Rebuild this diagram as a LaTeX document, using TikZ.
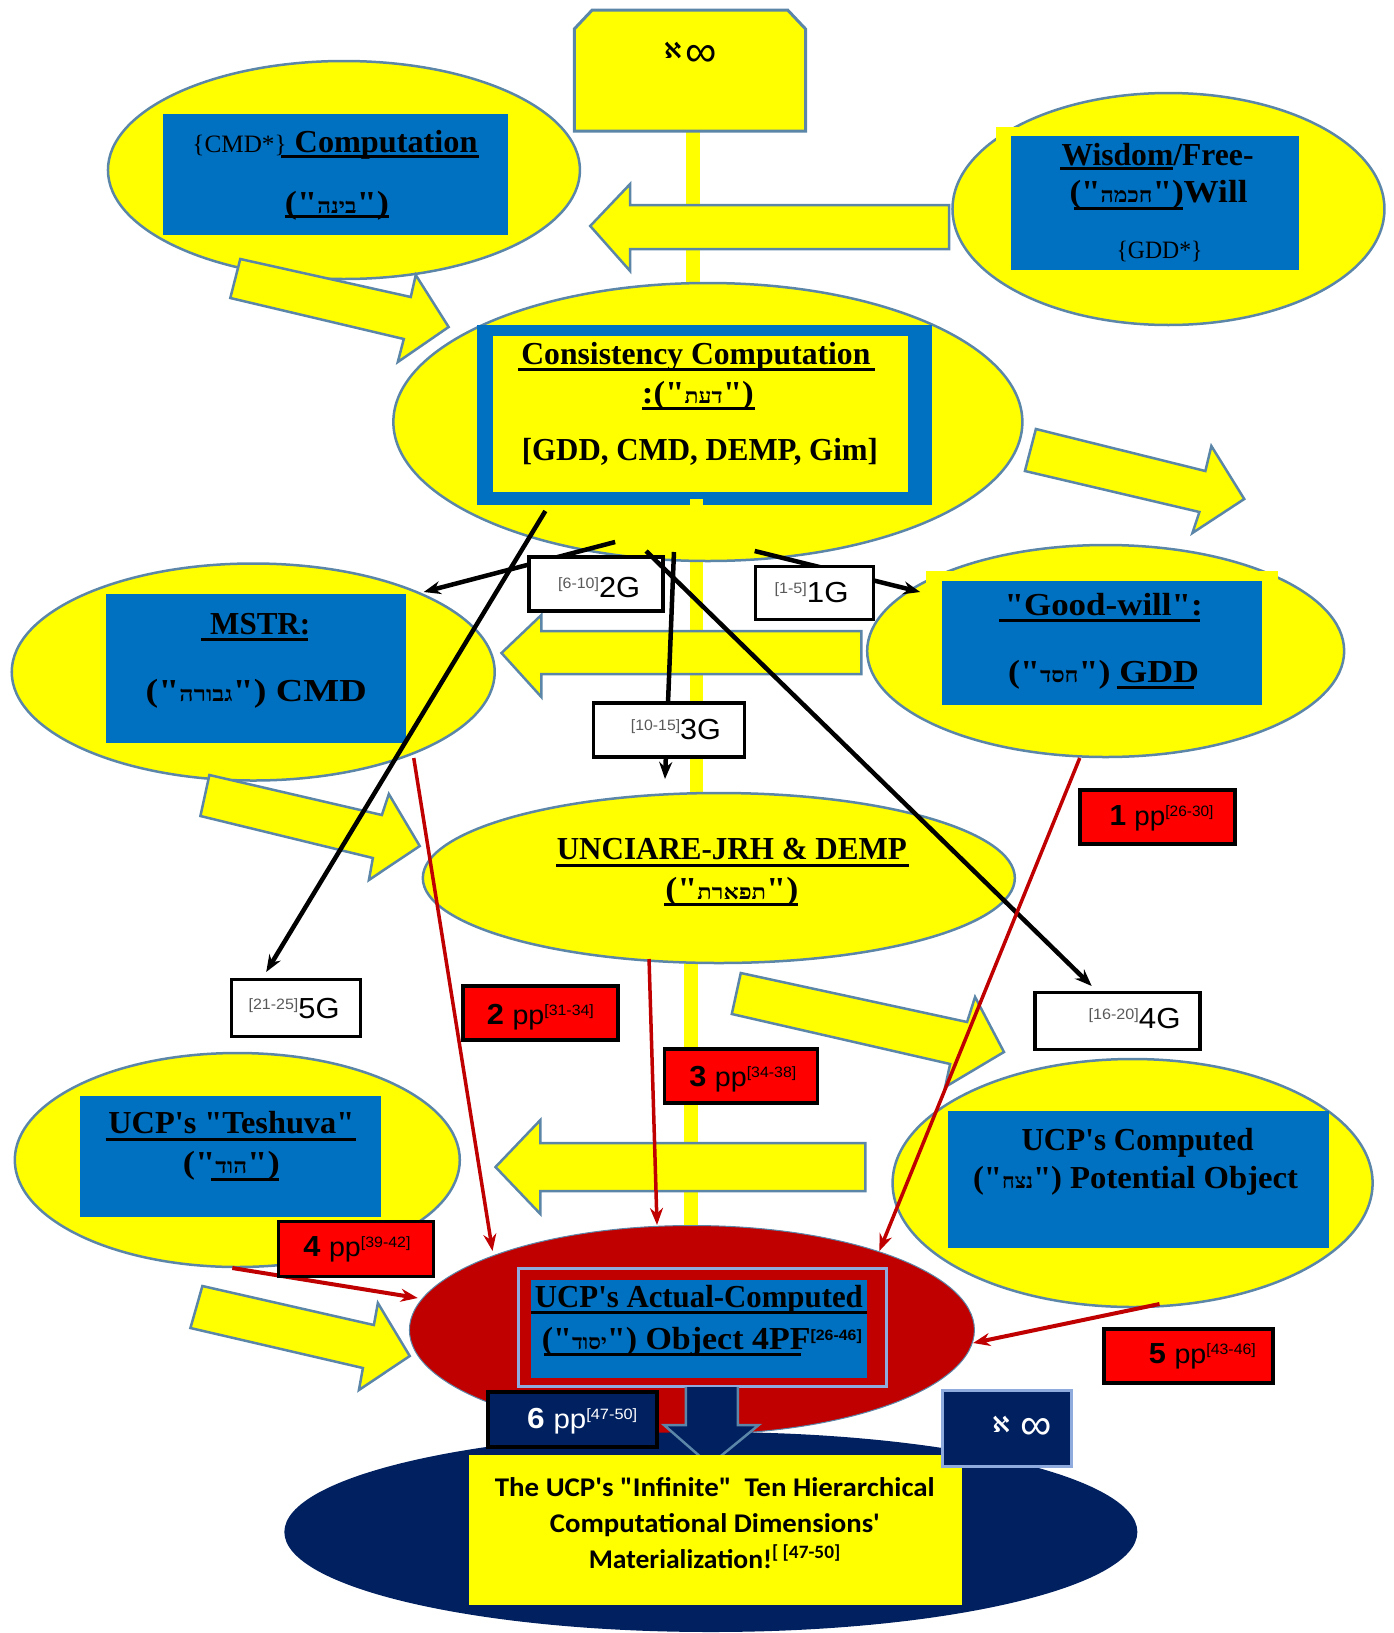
\documentclass[tikz,border=0pt]{standalone}
\usepackage{fontspec}
\usepackage{graphicx}
\usetikzlibrary{shapes.geometric,arrows.meta}
\TeXXeTstate=1
\setmainfont{Liberation Serif}
\setsansfont{Liberation Sans}
\newfontfamily\tmsfont{Liberation Serif}
\newfontfamily\hebfont[Script=Hebrew]{Liberation Serif}
\newfontfamily\djvfont{DejaVu Sans}
\newfontfamily\crlfont{Carlito}
\definecolor{yel}{HTML}{FFFF00}
\definecolor{blu}{HTML}{0070C0}
\definecolor{edg}{HTML}{5B86A8}
\definecolor{rd}{HTML}{FF0000}
\definecolor{drd}{HTML}{C00000}
\definecolor{nvy}{HTML}{002060}
\definecolor{lav}{HTML}{8FAADC}
\newcommand\fit[2]{\resizebox{#1pt}{\height}{#2}}
\newcommand\hb[1]{{\fontsize{21}{21}\selectfont\hebfont\bfseries\beginR #1\endR}}
\newcommand\mb{\tmsfont\fontsize{32}{36}\selectfont\bfseries}
\newcommand\mr{\tmsfont\fontsize{25}{28}\selectfont}
\newcommand\sps[1]{{\fontsize{15}{15}\selectfont\sffamily\raisebox{9pt}{#1}}}
\newcommand\gt[2]{{\sffamily\textcolor{black!65}{\sps{#1}}\fontsize{29}{30}\selectfont #2}}
\newcommand\ppt[2]{{\sffamily\fontsize{29}{30}\selectfont\bfseries #1\ \mdseries\fontsize{27}{28}\selectfont pp\sps{#2}}}
\newcommand\sheth{{\djvfont\fontsize{22}{22}\selectfont\bfseries ℵ}}
\newcommand\infi{{\sffamily\fontsize{44}{44}\selectfont ∞}}
\tikzset{
  x=0.997pt,y=-1pt,
  ell/.style={ellipse,draw=edg,line width=2.5pt,fill=yel,inner sep=0pt},
  bluebox/.style={fill=blu},
  yarrow/.style={draw=edg,line width=2.5pt,fill=yel,line join=miter},
  gbox/.style={rectangle,draw=black,line width=3.5pt,fill=white,inner sep=0pt},
  rbox/.style={rectangle,draw=black,line width=3.5pt,fill=rd,inner sep=0pt},
  blk/.style={draw=black,line width=4.5pt,-{Stealth[length=17pt,width=13pt]}},
  red1/.style={draw=drd,line width=3.5pt,-{Stealth[length=17pt,width=13pt]}},
  tx/.style={inner sep=0pt,outer sep=0pt,anchor=base},
  tc/.style={inner sep=0pt,outer sep=0pt,anchor=center},
  uline/.style={draw=black,line width=3pt}
}
\begin{document}
\begin{tikzpicture}
\useasboundingbox (0,0) rectangle (1397.2,1633);
% central yellow bar
\fill[yel] (688,132) rectangle (702,300);
\fill[yel] (692,500) rectangle (705,810);
\fill[yel] (686,950) rectangle (700,1240);
% top block
\draw[draw=edg,line width=3pt,fill=yel] (576,131)--(576,29)--(594,10)--(790,10)--(808,29)--(808,131)--cycle;
% ellipses
\node[ell,minimum width=472pt,minimum height=218pt] (eCMD) at (345,170) {};
\node[ell,minimum width=432pt,minimum height=232pt] (eGDD) at (1172,209) {};
\node[ell,minimum width=629pt,minimum height=278pt] (eCON) at (710,422) {};
\node[ell,minimum width=483pt,minimum height=217pt] (eMST) at (254,672) {};
\node[ell,minimum width=477pt,minimum height=212pt] (eGOO) at (1109,651) {};
\node[ell,minimum width=592pt,minimum height=170pt] (eUNC) at (721,878) {};
\node[ell,minimum width=445pt,minimum height=214pt] (eTES) at (238,1160) {};
\node[ell,minimum width=480pt,minimum height=248pt] (eCOM) at (1136,1183) {};
% blue / yellow panels
\fill[bluebox] (163,114) rectangle (510,235);
\fill[yel] (999,127) rectangle (1302,270);
\fill[bluebox] (1014,136) rectangle (1303,270);
\fill[bluebox] (478,325) rectangle (935,505);
\fill[yel] (494,336) rectangle (911,492);
\fill[yel] (692,499) rectangle (705,505);
\fill[bluebox] (106,594) rectangle (407,743);
\fill[yel] (929,571) rectangle (1282,610);
\fill[bluebox] (945,581) rectangle (1266,705);
\fill[bluebox] (80,1096) rectangle (382,1217);
\fill[bluebox] (951,1111) rectangle (1333,1248);
% yellow block arrows
\draw[yarrow] (952,205)--(632,205)--(632,184)--(592,226)--(632,271)--(632,249)--(952,249)--cycle;
\draw[yarrow] (864,631)--(543,631)--(543,615)--(503,653)--(543,697)--(543,674)--(864,674)--cycle;
\draw[yarrow] (868,1143)--(542,1143)--(542,1120)--(497,1167)--(542,1214)--(542,1191)--(868,1191)--cycle;
\draw[yarrow] (241,259)--(231,298)--(405,339)--(399,362)--(450,327)--(417,275)--(412,297)--cycle;
\draw[yarrow] (1039,429)--(1028,471)--(1203,512)--(1196,533)--(1248,499)--(1215,446)--(1209,471)--cycle;
\draw[yarrow] (210,775)--(201,816)--(374,858)--(370,880)--(421,846)--(390,794)--(383,815)--cycle;
\draw[yarrow] (743,973)--(734,1014)--(953,1064)--(948,1087)--(1007,1052)--(978,997)--(970,1022)--cycle;
\draw[yarrow] (203,1286)--(191,1328)--(364,1368)--(360,1390)--(411,1356)--(379,1303)--(375,1325)--cycle;
% bottom assembly
\node[ellipse,fill=drd,draw=edg,line width=1pt,inner sep=0pt,minimum width=565pt,minimum height=209pt] (eRED) at (694,1330) {};
\node[ellipse,fill=nvy,inner sep=0pt,minimum width=853pt,minimum height=200pt] (eNVY) at (713,1532) {};
\fill[blu] (533,1280) rectangle (870,1378);
\draw[lav,line width=3pt] (520,1268) rectangle (889,1386);
\draw[draw=edg,line width=2.5pt,fill=nvy] (688,1387)--(688,1425)--(666,1425)--(712,1465)--(761,1425)--(740,1425)--(740,1387);
\fill[yel] (470,1455) rectangle (965,1605);
\node[rectangle,draw=lav,line width=3pt,fill=nvy,inner sep=0pt,minimum width=129pt,minimum height=76pt] (bINF) at (1010,1428) {};
% black connectors
\coordinate (k1a) at (757,551); \coordinate (k1b) at (923,592);
\coordinate (k2a) at (617,542); \coordinate (k2b) at (425,592);
\coordinate (k3a) at (676,552); \coordinate (k3b) at (667,779);
\coordinate (k4a) at (648,551); \coordinate (k4b) at (1095,986);
\coordinate (k5a) at (547,511); \coordinate (k5b) at (267,972);
\draw[blk] (k1a) -- (k1b);
\draw[blk] (k2a) -- (k2b);
\draw[blk] (k3a) -- (k3b);
\draw[blk] (k5a) -- (k5b);
% white boxes
\node[gbox,minimum width=134pt,minimum height=54pt] (b2G) at (598,584) {};
\node[gbox,minimum width=118pt,minimum height=53pt] (b1G) at (817,593) {};
\node[gbox,minimum width=151pt,minimum height=54pt] (b3G) at (671,730) {};
\node[gbox,minimum width=129pt,minimum height=57pt] (b5G) at (297,1008) {};
\node[gbox,minimum width=165pt,minimum height=57pt] (b4G) at (1121,1021) {};
\draw[blk] (k4a) -- (k4b);
% red connectors
\coordinate (r1a) at (1083,758); \coordinate (r1b) at (882,1251);
\coordinate (r2a) at (415,758); \coordinate (r2b) at (494,1251);
\coordinate (r3a) at (651,959); \coordinate (r3b) at (659,1225);
\coordinate (r4a) at (233,1268); \coordinate (r4b) at (419,1298);
\coordinate (r5a) at (1163,1304); \coordinate (r5b) at (976,1343);
\draw[red1] (r1a) -- (r1b);
\draw[red1] (r2a) -- (r2b);
\draw[red1] (r3a) -- (r3b);
\draw[red1,line width=4pt] (r4a) -- (r4b);
\draw[red1,line width=4pt] (r5a) -- (r5b);
% red boxes
\node[rbox,minimum width=155pt,minimum height=54pt] (p1) at (1161,817) {};
\node[rbox,minimum width=155pt,minimum height=54pt] (p2) at (542,1013) {};
\node[rbox,minimum width=153pt,minimum height=54pt] (p3) at (743,1076) {};
\node[rbox,minimum width=155pt,minimum height=55pt] (p4) at (357,1249) {};
\node[rbox,minimum width=169pt,minimum height=54pt] (p5) at (1192,1356) {};
\node[rectangle,draw=black,line width=3.5pt,fill=nvy,inner sep=0pt,minimum width=169pt,minimum height=55pt] (p6) at (574,1419.5) {};
% underlines
\draw[uline] (282,156) -- (480,156);
\draw[uline] (286,216) -- (390,216);
\draw[uline] (1063,168) -- (1177,168);
\draw[uline] (1077,208) -- (1187,208);
\draw[uline] (520,369) -- (878,369);
\draw[uline] (644,408) -- (757,408);
\draw[uline] (202,639) -- (309,639);
\draw[uline] (1002,620) -- (1204,620);
\draw[uline] (1120,687) -- (1198,687);
\draw[uline] (558,865) -- (912,865);
\draw[uline] (666,904) -- (800,904);
\draw[uline] (106,1139) -- (357,1139);
\draw[uline] (212,1179) -- (280,1179);
\draw[uline] (533,1312) -- (870,1312);
\draw[uline] (546,1354) -- (803,1354);
% texts
\node[tx] (tTop) at (675,58) {\sheth};
\node[tc] (tTopI) at (703,56) {\infi};
\node[tx] (tA) at (336,152) {\fit{285}{\mr\{CMD*\}\mb\ Computation}};
\node[tx] (tA2) at (338,213) {\fit{104}{\mb("\hb{בינה}")}};
\node[tx] (tB) at (1161,165) {\fit{192}{\mb Wisdom/Free-}};
\node[tx] (tB2) at (1162,202) {\fit{178}{\mb("\hb{חכמה}")Will}};
\node[tx] (tB3) at (1163,258) {\fit{86}{\mr\{GDD*\}}};
\node[tx] (tC) at (698,364) {\fit{349}{\mb Consistency Computation}};
\node[tx] (tC2) at (700,403) {\fit{112}{\mb:("\hb{דעת}")}};
\node[tx] (tC3) at (702,460) {\fit{356}{\mb[GDD, CMD, DEMP, Gim]}};
\node[tx] (tD) at (261,634) {\fit{100}{\mb MSTR:}};
\node[tx] (tD2) at (257,701) {\fit{221}{\mb("\hb{גבורה}") CMD}};
\node[tx] (tE) at (1107,615) {\fit{198}{\mb"Good-will":}};
\node[tx] (tE2) at (1107,682) {\fit{191}{\mb("\hb{חסד}") GDD}};
\node[tx] (tF) at (734,859) {\fit{350}{\mb UNCIARE-JRH \& DEMP}};
\node[tx] (tF2) at (734,899) {\fit{133}{\mb("\hb{תפארת}")}};
\node[tx] (tG) at (232,1133) {\fit{246}{\mb UCP's "Teshuva"}};
\node[tx] (tG2) at (232,1173) {\fit{97}{\mb("\hb{הוד}")}};
\node[tx] (tH) at (1141,1150) {\fit{232}{\mb UCP's Computed}};
\node[tx] (tH2) at (1139,1188) {\fit{325}{\mb("\hb{נצח}") Potential Object}};
\node[tx] (tI) at (701,1307) {\fit{328}{\mb UCP's Actual-Computed}};
\node[tx] (tI2) at (704,1349) {\fit{320}{\mb("\hb{יסוד}") Object 4PF\sps{[26-46]}}};
% box texts
\node[tx] (g2) at (601,597) {\fit{82}{\gt{[6-10]}{2G}}};
\node[tx] (g1) at (814,602) {\fit{74}{\gt{[1-5]}{1G}}};
\node[tx] (g3) at (678,739) {\fit{90}{\gt{[10-15]}{3G}}};
\node[tx] (g5) at (295,1018) {\fit{91}{\gt{[21-25]}{5G}}};
\node[tx] (g4) at (1138,1028) {\fit{92}{\gt{[16-20]}{4G}}};
\node[tx] (q1) at (1165,825) {\fit{104}{\ppt{1}{[26-30]}}};
\node[tx] (q2) at (542,1024) {\fit{107}{\ppt{2}{[31-34]}}};
\node[tx] (q3) at (745,1086) {\fit{107}{\ppt{3}{[34-38]}}};
\node[tx] (q4) at (358,1256) {\fit{107}{\ppt{4}{[39-42]}}};
\node[tx] (q5) at (1206,1363) {\fit{107}{\ppt{5}{[43-46]}}};
\node[tx,text=white] (q6) at (584,1428) {\fit{110}{\ppt{6}{[47-50]}}};
\node[tx,text=white] (tInfA) at (1004,1432) {\sheth};
\node[tc,text=white] (tInfB) at (1039,1429) {\infi};
% bottom caption
\node[tx] (z1) at (717,1496) {\fit{440}{\crlfont\fontsize{27}{30}\selectfont\bfseries The UCP's "Infinite"\ \ Ten Hierarchical}};
\node[tx] (z2) at (717,1532) {\fit{330}{\crlfont\fontsize{27}{30}\selectfont\bfseries Computational Dimensions'}};
\node[tx] (z3) at (717,1568) {\fit{252}{\crlfont\fontsize{27}{30}\selectfont\bfseries Materialization!\textsuperscript{[ [47-50]}}};
\end{tikzpicture}
\end{document}
